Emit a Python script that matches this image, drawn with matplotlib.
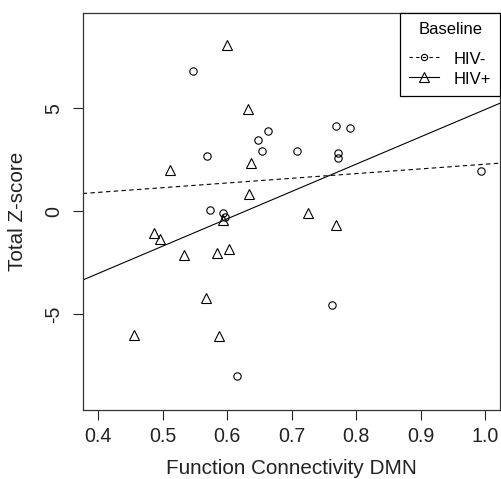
import matplotlib
matplotlib.use("Agg")
import matplotlib.pyplot as plt
from matplotlib.lines import Line2D

plt.rcParams['font.family'] = ['Liberation Sans', 'DejaVu Sans']

# HIV- (circles)
neg_x = [0.547, 0.568, 0.648, 0.664, 0.654, 0.708, 0.768, 0.790, 0.771, 0.772,
         0.574, 0.594, 0.596, 0.993, 0.762, 0.615]
neg_y = [6.83, 2.68, 3.48, 3.90, 2.90, 2.93, 4.14, 4.04, 2.82, 2.56,
         0.05, -0.11, -0.28, 1.96, -4.58, -8.00]
# HIV+ (triangles)
pos_x = [0.600, 0.633, 0.637, 0.511, 0.634, 0.725, 0.768, 0.486, 0.496, 0.533,
         0.584, 0.603, 0.567, 0.455, 0.588, 0.594]
pos_y = [8.07, 4.98, 2.33, 2.00, 0.83, -0.08, -0.69, -1.05, -1.36, -2.14,
         -2.02, -1.84, -4.21, -6.03, -6.05, -0.44]

# regression lines (intercept, slope)
neg_fit = (0.00, 2.28)
pos_fit = (-8.34, 13.28)

x_ticks = [0.4, 0.5, 0.6, 0.7, 0.8, 0.9, 1.0]
x_ticklabels = ["0.4", "0.5", "0.6", "0.7", "0.8", "0.9", "1.0"]
y_ticks = [-5, 0, 5]
y_ticklabels = ["-5", "0", "5"]

fig = plt.figure(figsize=(5.01, 4.79), dpi=100)
ax = fig.add_axes([0.165, 0.144, 0.8336, 0.8295])

tri_size = 7.6
circ_size = 5.3
ax.plot(neg_x, neg_y, linestyle='none', marker='o', markersize=circ_size,
        markerfacecolor='none', markeredgecolor='black', markeredgewidth=0.8)
ax.plot(pos_x, pos_y, linestyle='none', marker='^', markersize=tri_size,
        markerfacecolor='none', markeredgecolor='black', markeredgewidth=0.8)

ax.axline((0, neg_fit[0]), slope=neg_fit[1], color='black', lw=0.8,
          linestyle=(0, (4, 3)))
ax.axline((0, pos_fit[0]), slope=pos_fit[1], color='black', lw=0.8)

ax.set_xlim(0.376, 1.0233)
ax.set_ylim(-9.66, 9.64)

ax.set_xticks(x_ticks)
ax.set_xticklabels(x_ticklabels)
ax.set_yticks(y_ticks)
ax.set_yticklabels(y_ticklabels, rotation=90, va='center')

ax.tick_params(axis='both', direction='out', length=7, width=0.8,
               labelsize=14.1, color='#222222', labelcolor='#222222')
ax.tick_params(axis='x', pad=5.5)
ax.tick_params(axis='y', pad=7)

for s in ax.spines.values():
    s.set_linewidth(0.9)
    s.set_color('#333333')

ax.set_xlabel("Function Connectivity DMN", fontsize=14.9, color='#222222',
              va='baseline')
ax.xaxis.set_label_coords(0.5, -0.162)
ax.set_ylabel("Total Z-score", fontsize=14.9, color='#222222', va='baseline')
ax.yaxis.set_label_coords(-0.142, 0.5)

handles = [
    Line2D([], [], color='black', lw=0.8, linestyle=(0, (3, 3)), marker='o',
           markersize=4.5, markerfacecolor='none', markeredgewidth=0.8),
    Line2D([], [], color='black', lw=0.8, marker='^', markersize=7,
           markerfacecolor='none', markeredgewidth=0.8),
]
leg = ax.legend(handles, ["HIV-", "HIV+"], title="Baseline", loc='upper right',
                bbox_to_anchor=(1.0, 1.0), borderaxespad=0, fancybox=False,
                framealpha=1, edgecolor='black', fontsize=12,
                title_fontsize=12, handlelength=1.76, handletextpad=0.9,
                handleheight=1.0, borderpad=0.55, labelspacing=0.22)
leg.get_frame().set_linewidth(0.9)
# extra gap between the legend title and its entries
leg._legend_box.sep = 10.0

fig.savefig("out.png", dpi=100)
